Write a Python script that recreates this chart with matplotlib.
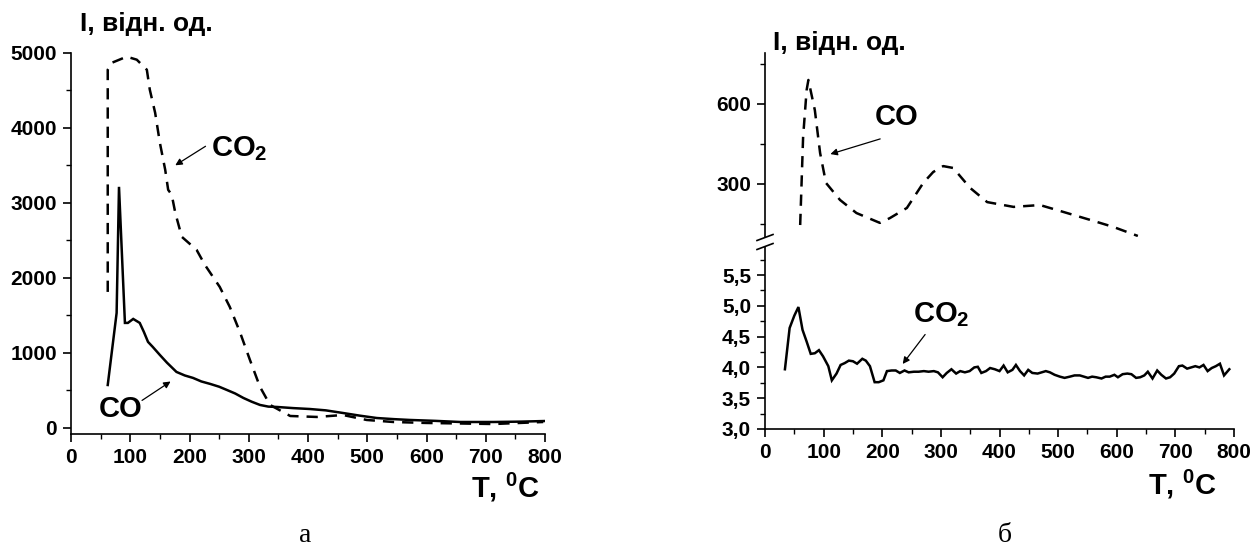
import matplotlib
matplotlib.use("Agg")
import matplotlib.pyplot as plt
from matplotlib.ticker import MultipleLocator, FuncFormatter

plt.rcParams['font.family'] = ['Liberation Sans', 'DejaVu Sans']
plt.rcParams['font.weight'] = 'bold'
plt.rcParams['mathtext.fontset'] = 'custom'
plt.rcParams['mathtext.rm'] = 'Liberation Sans:bold'
plt.rcParams['mathtext.bf'] = 'Liberation Sans:bold'
plt.rcParams['mathtext.it'] = 'Liberation Sans:bold'

# ---------------- data: panel a ----------------
co2_a_T = [62, 62, 69, 94, 111, 128, 133, 142, 150, 159, 164, 170, 176, 187, 212, 226, 251, 268,
           285, 302, 319, 336, 370, 415, 459, 499, 544, 600, 657, 713, 797]
co2_a_I = [1813, 4773, 4866, 4947, 4907, 4773, 4507, 4200, 3800, 3440, 3173, 3107, 2867, 2547,
           2373, 2173, 1880, 1613, 1280, 907, 547, 307, 160, 147, 173, 107, 80, 67, 60, 53, 80]

co_a_T = [62, 77, 81, 91, 96, 105, 116, 123, 130, 138, 150, 162, 178, 192, 206, 220, 235, 250,
          263, 277, 291, 305, 319, 333, 348, 375, 403, 430, 459, 487, 516, 545, 572, 615, 657,
          713, 760, 800]
co_a_I = [573, 1533, 3213, 1400, 1400, 1453, 1400, 1280, 1147, 1080, 973, 870, 747, 700, 667,
          620, 587, 550, 507, 460, 400, 350, 307, 285, 280, 265, 253, 235, 200, 165, 133, 118, 107,
          95, 80, 80, 85, 93]

# ---------------- data: panel б ----------------
co_b_T = [60, 65, 71, 74, 85, 94, 104, 128, 156, 196, 213, 242, 270, 287, 304, 321, 350, 379,
          424, 469, 503, 555, 594, 636]
co_b_I = [146, 476, 652, 690, 577, 416, 304, 240, 191, 154, 172, 210, 304, 345, 367, 360, 285,
          232, 214, 221, 199, 165, 139, 105]

co2_b_T = [34, 42, 50, 57, 64, 71, 78, 85, 92, 99, 108, 114, 122, 129, 136, 143, 150, 157, 166,
           172, 179, 187, 194, 202, 208, 216, 223, 230, 238, 245, 254, 262, 271, 279, 288, 295,
           303, 310, 318, 326, 333, 341, 349, 357, 363, 369, 377, 384, 392, 400, 407, 414, 422,
           428, 435, 442, 449, 456, 465, 472, 479, 486, 494, 503, 511, 520, 528, 537, 544, 551,
           558, 565, 574, 581, 588, 596, 602, 610, 618, 625, 633, 640, 647, 653, 661, 669, 676,
           684, 691, 698, 706, 712, 720, 727, 734, 741, 748, 755, 762, 769, 776, 783, 792]
co2_b_I = [3.97, 4.64, 4.84, 4.98, 4.61, 4.42, 4.22, 4.23, 4.28, 4.18, 4.02, 3.79, 3.90, 4.04,
           4.07, 4.11, 4.10, 4.06, 4.14, 4.11, 4.02, 3.76, 3.76, 3.79, 3.94, 3.95, 3.95, 3.91,
           3.95, 3.92, 3.93, 3.93, 3.94, 3.93, 3.94, 3.92, 3.84, 3.91, 3.97, 3.90, 3.94, 3.92,
           3.94, 4.00, 4.01, 3.91, 3.94, 3.99, 3.97, 3.94, 4.03, 3.92, 3.96, 4.04, 3.94, 3.87,
           3.96, 3.91, 3.90, 3.92, 3.94, 3.92, 3.88, 3.85, 3.83, 3.85, 3.87, 3.87, 3.85, 3.83,
           3.85, 3.84, 3.82, 3.85, 3.85, 3.88, 3.84, 3.89, 3.90, 3.89, 3.83, 3.84, 3.87, 3.93,
           3.82, 3.95, 3.88, 3.82, 3.84, 3.90, 4.02, 4.03, 3.98, 4.00, 4.02, 4.00, 4.04, 3.94,
           3.99, 4.02, 4.06, 3.87, 3.97]

W, H = 1252, 556
fig = plt.figure(figsize=(W / 100, H / 100), dpi=100)


def frac(x0, y_top, x1, y_bot):
    return [x0 / W, 1 - y_bot / H, (x1 - x0) / W, (y_bot - y_top) / H]


TICK_FS = 15
LW = 1.8
DASH = (0, (4.5, 3.2))
LABEL_FS = 21


def style(ax):
    for s in ('top', 'right'):
        ax.spines[s].set_visible(False)
    for s in ('left', 'bottom'):
        ax.spines[s].set_linewidth(1.2)
    ax.tick_params(which='major', direction='out', length=6, width=1.2, labelsize=TICK_FS, pad=4)
    ax.tick_params(which='minor', direction='out', length=3.5, width=1.0)
    for lab in ax.get_xticklabels() + ax.get_yticklabels():
        lab.set_fontweight('bold')


# ---------------- panel a ----------------
axA = fig.add_axes(frac(71, 52.7, 545, 434))
axA.plot(co2_a_T, co2_a_I, color='black', lw=LW, linestyle=DASH)
axA.plot(co_a_T, co_a_I, color='black', lw=LW, solid_joinstyle='miter')
axA.set_xlim(0, 800)
axA.set_ylim(-80, 5000)
axA.xaxis.set_major_locator(MultipleLocator(100))
axA.xaxis.set_minor_locator(MultipleLocator(50))
axA.yaxis.set_major_locator(MultipleLocator(1000))
axA.yaxis.set_minor_locator(MultipleLocator(500))
style(axA)
axA.annotate('', xy=(172, 3480), xytext=(231, 3773),
             arrowprops=dict(arrowstyle='-|>', color='black', lw=0.9, mutation_scale=10))
axA.text(236, 3720, 'CO$_{2}$', fontsize=LABEL_FS, fontweight='bold', va='center', ha='left')
axA.annotate('', xy=(172, 640), xytext=(116, 347),
             arrowprops=dict(arrowstyle='-|>', color='black', lw=0.9, mutation_scale=10))
axA.text(83, 253, 'CO', fontsize=LABEL_FS, fontweight='bold', va='center', ha='center')

fig.text(80 / W, 1 - 24 / H, 'I, відн. од.', fontsize=19, fontweight='bold', va='center', ha='left')
fig.text(505 / W, 1 - 487 / H, 'T, $^{0}$C', fontsize=21, fontweight='bold', va='center', ha='center')

# ---------------- panel б ----------------
axU = fig.add_axes(frac(765, 53.3, 1234, 237.3))
axL = fig.add_axes(frac(765, 247.3, 1234, 429))

axU.plot(co_b_T, co_b_I, color='black', lw=LW, linestyle=DASH)
axU.set_xlim(0, 800)
axU.set_ylim(100, 790)
axU.yaxis.set_major_locator(MultipleLocator(300))
axU.yaxis.set_minor_locator(MultipleLocator(150))
style(axU)
axU.spines['bottom'].set_visible(False)
axU.tick_params(axis='x', which='both', bottom=False, labelbottom=False)
axU.annotate('', xy=(107, 409), xytext=(201, 472),
             arrowprops=dict(arrowstyle='-|>', color='black', lw=0.9, mutation_scale=10))
axU.text(225, 551, 'CO', fontsize=LABEL_FS, fontweight='bold', va='center', ha='center')

axL.plot(co2_b_T, co2_b_I, color='black', lw=LW, solid_joinstyle='miter')
axL.set_xlim(0, 800)
axL.set_ylim(3.0, 5.95)
axL.xaxis.set_major_locator(MultipleLocator(100))
axL.xaxis.set_minor_locator(MultipleLocator(50))
axL.yaxis.set_major_locator(MultipleLocator(0.5))
axL.yaxis.set_minor_locator(MultipleLocator(0.25))
axL.yaxis.set_major_formatter(FuncFormatter(lambda v, p: f'{v:.1f}'.replace('.', ',')))
style(axL)
axL.annotate('', xy=(232, 4.02), xytext=(276, 4.57),
             arrowprops=dict(arrowstyle='-|>', color='black', lw=0.9, mutation_scale=10))
axL.text(301, 4.85, 'CO$_{2}$', fontsize=LABEL_FS, fontweight='bold', va='center', ha='center')

# break marks on the left spine
for yb in (237.5, 246.5):
    fig.add_artist(plt.Line2D([757 / W, 773 / W], [1 - (yb + 3) / H, 1 - (yb - 3) / H],
                              color='black', lw=1.2, transform=fig.transFigure))

fig.text(773 / W, 1 - 43 / H, 'I, відн. од.', fontsize=19, fontweight='bold', va='center', ha='left')
fig.text(1182 / W, 1 - 484 / H, 'T, $^{0}$C', fontsize=21, fontweight='bold', va='center', ha='center')

fig.text(305 / W, 1 - 535 / H, 'а', fontsize=20, fontweight='normal', family='Liberation Serif',
         va='center', ha='center')
fig.text(1005 / W, 1 - 535 / H, 'б', fontsize=20, fontweight='normal', family='Liberation Serif',
         va='center', ha='center')

fig.savefig('out.png', dpi=100)
